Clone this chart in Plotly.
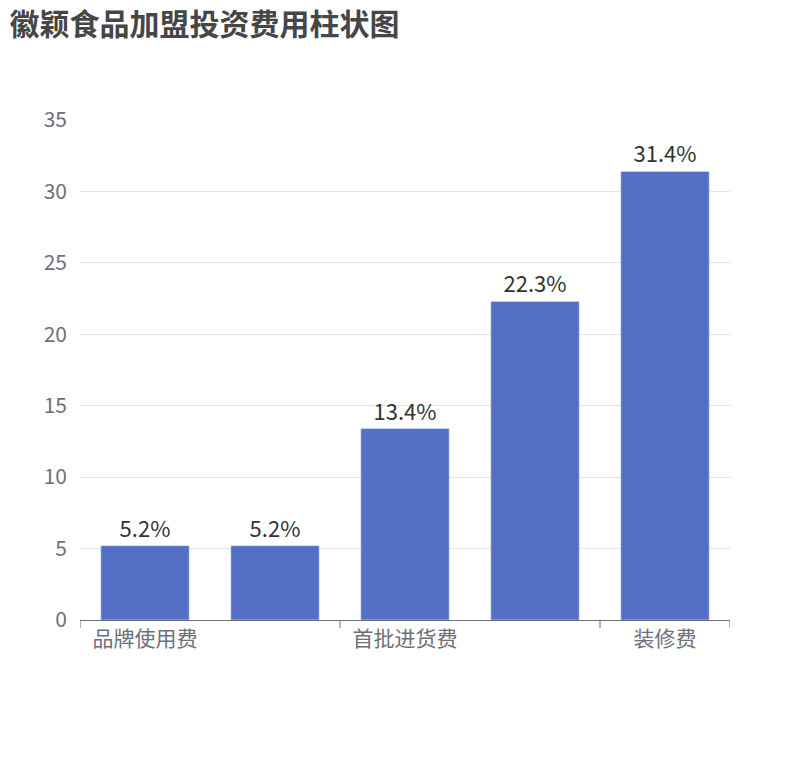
import plotly.graph_objects as go

categories = ["品牌使用费", "加盟费", "首批进货费", "设备费", "装修费"]
values = [5.2, 5.2, 13.4, 22.3, 31.4]
shown_labels = ["品牌使用费", "", "首批进货费", "", "装修费"]

x = list(range(len(categories)))
fig = go.Figure(go.Bar(
    x=x, y=values, width=0.68, marker_color="#5470c6",
    text=[f"{v}%" for v in values], textposition="outside",
    textfont=dict(size=22, color="#333"), cliponaxis=False,
    hovertext=categories,
))
shapes = []
for b in [-0.5, 1.5, 3.5, 4.5]:
    shapes.append(dict(type="line", xref="x", yref="paper", x0=b, x1=b, y0=0, y1=-0.016,
                       line=dict(color="#6e7079", width=1)))
fig.update_layout(
    width=810, height=760, plot_bgcolor="white", paper_bgcolor="white",
    margin=dict(l=72, r=88, t=112, b=148),
    font=dict(family="Noto Sans CJK SC", color="#6e7079"),
    title=dict(text="<b>徽颖食品加盟投资费用柱状图</b>", x=0.002, y=0.978, xanchor="left", yanchor="middle",
               font=dict(size=30, color="#464646")),
    shapes=shapes, showlegend=False,
    xaxis=dict(range=[-0.5, 4.5], tickvals=x, ticktext=shown_labels, ticks="",
               showline=True, linecolor="#6e7079", tickfont=dict(size=21), showgrid=False),
    yaxis=dict(range=[0, 35], dtick=5, gridcolor="#e0e6f1", tickfont=dict(size=21),
               zeroline=False, ticks="", ticklabelstandoff=12),
)
fig.write_html("out.html")
